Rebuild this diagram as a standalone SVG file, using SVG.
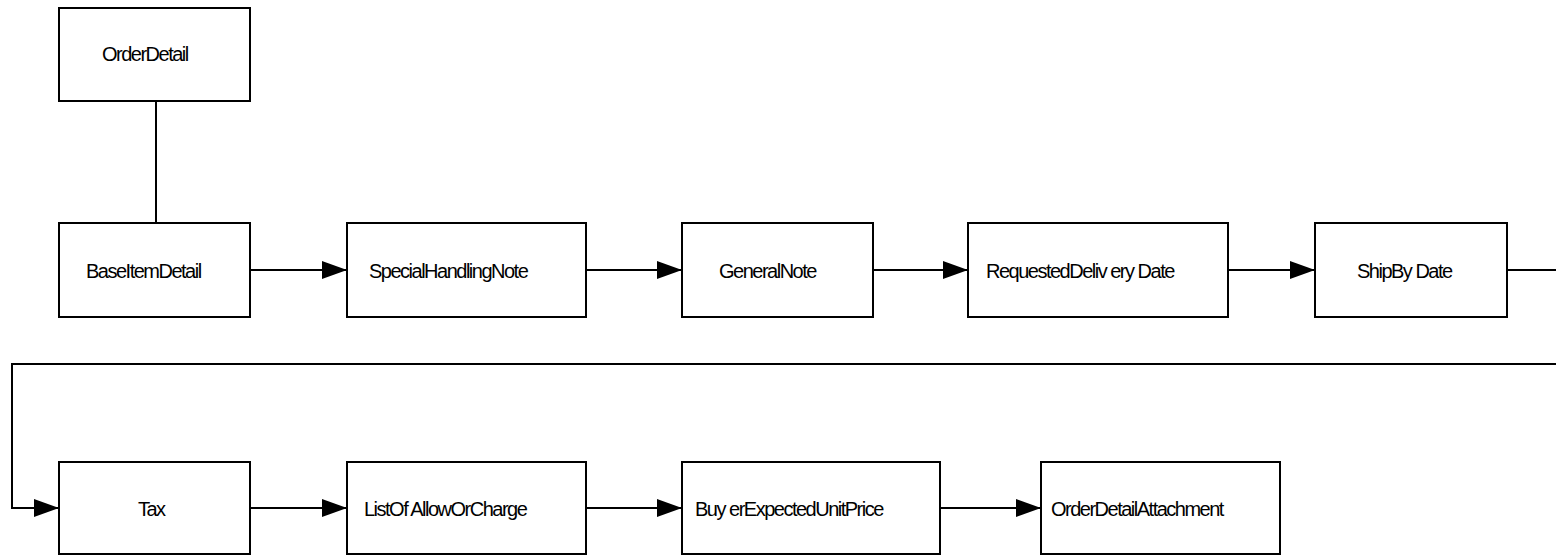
<svg xmlns="http://www.w3.org/2000/svg" width="1556" height="556" viewBox="0 0 1556 556">
<style>
.box{fill:#fff;stroke:#000;stroke-width:2}
.lbl{font-family:"Liberation Sans",Arial,sans-serif;font-size:20px;letter-spacing:-1.5px;fill:#000}
.edge{fill:none;stroke:#000;stroke-width:2}
</style>
<defs>
<marker id="arr" markerUnits="userSpaceOnUse" markerWidth="26" markerHeight="20" refX="25" refY="9" orient="auto">
<path d="M0,0 L25,9 L0,18 Z" fill="#000"/>
</marker>
</defs>
<rect width="1556" height="556" fill="#fff"/>
<g id="connectors">
<path class="edge" d="M156,101 V223"/>
<path class="edge" d="M250,270 H347" marker-end="url(#arr)"/>
<path class="edge" d="M586,270 H682" marker-end="url(#arr)"/>
<path class="edge" d="M873,270 H968" marker-end="url(#arr)"/>
<path class="edge" d="M1228,270 H1315" marker-end="url(#arr)"/>
<path class="edge" d="M1507,270 H1570 V364 H12 V508 H59" marker-end="url(#arr)"/>
<path class="edge" d="M250,508 H347" marker-end="url(#arr)"/>
<path class="edge" d="M586,508 H682" marker-end="url(#arr)"/>
<path class="edge" d="M940,508 H1041" marker-end="url(#arr)"/>
</g>
<g id="OrderDetail"><rect class="box" x="59" y="8" width="191" height="93"/><text class="lbl" x="102" y="61">OrderDetail</text></g>
<g id="BaseItemDetail"><rect class="box" x="59" y="223" width="191" height="94"/><text class="lbl" x="86" y="278">BaseItemDetail</text></g>
<g id="SpecialHandlingNote"><rect class="box" x="347" y="223" width="239" height="94"/><text class="lbl" x="369" y="278">SpecialHandlingNote</text></g>
<g id="GeneralNote"><rect class="box" x="682" y="223" width="191" height="94"/><text class="lbl" x="719" y="278">GeneralNote</text></g>
<g id="RequestedDeliveryDate"><rect class="box" x="968" y="223" width="260" height="94"/><text class="lbl" x="986" y="278">RequestedDeliv ery Date</text></g>
<g id="ShipByDate"><rect class="box" x="1315" y="223" width="192" height="94"/><text class="lbl" x="1357" y="278">ShipBy Date</text></g>
<g id="Tax"><rect class="box" x="59" y="462" width="191" height="92"/><text class="lbl" x="138" y="516">Tax</text></g>
<g id="ListOfAllowOrCharge"><rect class="box" x="347" y="462" width="239" height="92"/><text class="lbl" x="364" y="516">ListOf AllowOrCharge</text></g>
<g id="BuyerExpectedUnitPrice"><rect class="box" x="682" y="462" width="258" height="92"/><text class="lbl" x="695" y="516">Buy erExpectedUnitPrice</text></g>
<g id="OrderDetailAttachment"><rect class="box" x="1041" y="462" width="239" height="92"/><text class="lbl" x="1051" y="516">OrderDetailAttachment</text></g>
</svg>
